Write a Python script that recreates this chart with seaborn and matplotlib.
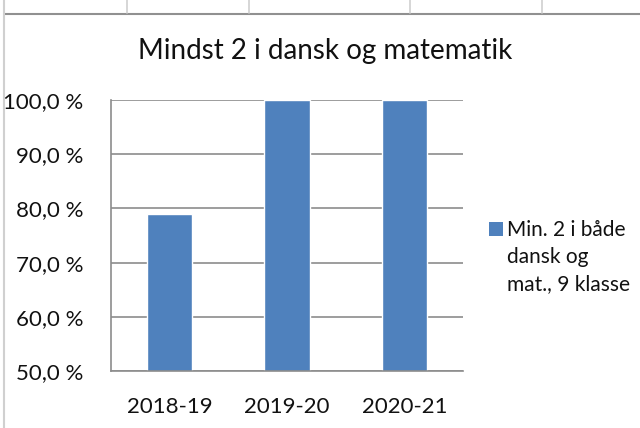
import matplotlib
matplotlib.use("Agg")
import matplotlib.pyplot as plt
import seaborn as sns
import pandas as pd
from matplotlib.lines import Line2D
from matplotlib.patches import Rectangle
from matplotlib.ticker import FixedLocator

categories = ["2018-19", "2019-20", "2020-21"]
values = [79.0, 100.0, 100.0]
yticks = [50, 60, 70, 80, 90, 100]
ytick_labels = ["50,0 %", "60,0 %", "70,0 %", "80,0 %", "90,0 %", "100,0 %"]
title = "Mindst 2 i dansk og matematik"
legend_lines = ["Min. 2 i både", "dansk og", "mat., 9 klasse"]

sns.set_theme(style="white")
plt.rcParams['font.family'] = ['Lato', 'DejaVu Sans']

W, H = 640, 428
fig = plt.figure(figsize=(6.4, 4.28), dpi=100)
ax = fig.add_axes([111 / W, 1 - 371 / H, (463 - 111) / W, (371 - 100) / H])

df = pd.DataFrame({"cat": categories, "val": values})
sns.barplot(data=df, x="cat", y="val", color="#4F81BD", saturation=1, width=0.385, ax=ax)

ax.set_ylim(50, 100)
ax.set_xlim(-0.5, 2.5)
ax.set_yticks(yticks)
ax.set_yticklabels(ytick_labels, fontsize=16, color="#111111")
ax.set_xlabel("")
ax.set_ylabel("")
ax.tick_params(axis="x", labelsize=16, labelcolor="#111111", length=0, pad=19)
ax.xaxis.set_minor_locator(FixedLocator([-0.5, 0.5, 1.5, 2.5]))
ax.tick_params(axis="x", which="minor", length=7, width=1.2, color="#8c8c8c", direction="out")
ax.tick_params(axis="y", length=7, width=1.2, color="#8c8c8c", direction="out", pad=13)
ax.yaxis.grid(True, color="#8c8c8c", linewidth=1.2)
ax.set_axisbelow(True)
for s in ["top", "right"]:
    ax.spines[s].set_visible(False)
for s in ["left", "bottom"]:
    ax.spines[s].set_color("#8c8c8c")
    ax.spines[s].set_linewidth(1.2)

fig.text(325 / W, 1 - 59 / H, title, ha="center", va="baseline", fontsize=20, color="#111111")

# legend
fig.patches.append(Rectangle((489 / W, 1 - 236 / H), 14 / W, 14 / H, transform=fig.transFigure,
                             facecolor="#4F81BD", edgecolor="none"))
for line, yb in zip(legend_lines, [236, 263, 290]):
    fig.text(507 / W, 1 - yb / H, line, ha="left", va="baseline", fontsize=15, color="#111111")

# spreadsheet lines
fig.add_artist(Line2D([4 / W, 1], [1 - 14 / H, 1 - 14 / H], color="#909090", lw=1.5, transform=fig.transFigure))
fig.add_artist(Line2D([4 / W, 4 / W], [0, 1], color="#d0d0d0", lw=1.5, transform=fig.transFigure))
for x in [127, 249, 410, 542]:
    fig.add_artist(Line2D([x / W, x / W], [1 - 13 / H, 1], color="#d0d0d0", lw=1.2, transform=fig.transFigure))

fig.savefig("out.png", dpi=100)
